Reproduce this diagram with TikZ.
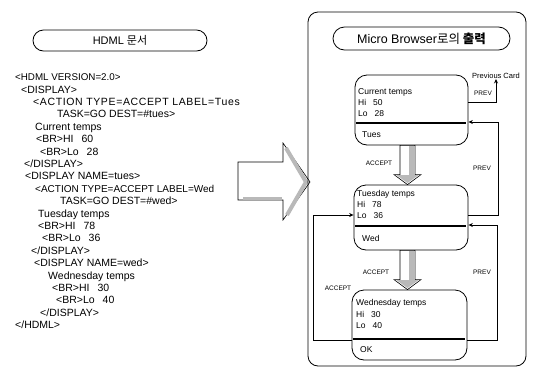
\documentclass[tikz,border=0pt]{standalone}
\usepackage{fontspec}
\setmainfont{Liberation Sans}
\newfontfamily\cjk{Noto Sans CJK KR}
\newfontfamily\widesans[LetterSpace=6]{Liberation Sans}
\usetikzlibrary{arrows.meta,shapes.misc,calc}
\begin{document}
\begin{tikzpicture}[x=1pt,y=-1pt,
 card/.style={draw, line width=0.8pt, rounded corners=12pt, inner sep=0},
 ctext/.style={anchor=base west, inner sep=0, font=\fontsize{8.5}{10}\selectfont},
 code/.style={anchor=base west, inner sep=0, font=\fontsize{10.5}{12}\selectfont},
 widecode/.style={code, font=\fontsize{10.5}{12}\widesans},
 lab/.style={inner sep=0, font=\fontsize{6.5}{8}\selectfont},
 conn/.style={draw, line width=0.7pt, -{Stealth[length=4.5pt,width=4pt]}},
 pill/.style={draw, line width=0.8pt, rounded rectangle, inner sep=0},
 sepline/.style={line width=1.6pt},
 blk/.style={draw, line width=0.6pt, fill=white},
 shade/.style={fill=gray!55, draw=none}
]
\useasboundingbox (0,0) rectangle (533,370);

% ---------- left: HDML document ----------
\node[pill, minimum width=174pt, minimum height=21pt] (hdml) at (120,40.5)
  {\fontsize{11}{13}\selectfont HDML {\cjk 문서}};

\node[code, font=\fontsize{9.8}{12}\selectfont] (l0) at (15,80.6) {<HDML VERSION=2.0>};
\node[code] (l1)  at (21,93)    {<DISPLAY>};
\node[widecode] (l2) at (33,105.4) {<ACTION TYPE=ACCEPT LABEL=Tues};
\node[code] (l3)  at (57,117.8) {TASK=GO DEST=\#tues>};
\node[code] (l4)  at (35,130.2) {Current temps};
\node[code] (l5)  at (36,142.6) {<BR>HI\hspace{8pt}60};
\node[code] (l6)  at (40,155)   {<BR>Lo\hspace{8pt}28};
\node[code] (l7)  at (24,167.4) {</DISPLAY>};
\node[code] (l8)  at (25,179.8) {<DISPLAY NAME=tues>};
\node[code, font=\fontsize{10}{12}\selectfont] (l9) at (35,192.2) {<ACTION TYPE=ACCEPT LABEL=Wed};
\node[code] (l10) at (60,204.6) {TASK=GO DEST=\#wed>};
\node[code] (l11) at (38,217)   {Tuesday temps};
\node[code] (l12) at (38,229.4) {<BR>HI\hspace{8pt}78};
\node[code] (l13) at (42,241.8) {<BR>Lo\hspace{8pt}36};
\node[code] (l14) at (31,254.2) {</DISPLAY>};
\node[code] (l15) at (34,266.6) {<DISPLAY NAME=wed>};
\node[code] (l16) at (48,279)   {Wednesday temps};
\node[code] (l17) at (52,291.4) {<BR>HI\hspace{8pt}30};
\node[code] (l18) at (56,303.8) {<BR>Lo\hspace{8pt}40};
\node[code] (l19) at (40,316.2) {</DISPLAY>};
\node[code] (l20) at (15,328.6) {</HDML>};

% ---------- big block arrow ----------
\draw[blk] (238,162) -- (283,162) -- (283,143) -- (310,182) -- (283,220)
  -- (283,200) -- (238,200) -- cycle;
\draw[line width=4pt, gray!55] (286,148) -- (306,182) -- (287,215);
\draw[line width=3pt, gray!55] (243,198) -- (282,198);

% ---------- right: micro browser ----------
\node[draw, line width=0.8pt, rounded corners=10pt, minimum width=218pt,
  minimum height=354pt, inner sep=0] (frame) at (417,189) {};
\node[pill, minimum width=177pt, minimum height=23pt] (mb) at (421.5,38.5)
  {\fontsize{12.5}{14}\selectfont Micro Browser{\cjk 로의 \textbf{출력}}};

% cards
\node[card, minimum width=113pt, minimum height=70pt] (c1) at (411.5,110) {};
\node[card, minimum width=114pt, minimum height=65pt] (c2) at (411,217.5) {};
\node[card, minimum width=115pt, minimum height=70pt] (c3) at (409.5,325) {};

\node[ctext] (t11) at (358,94)  {Current temps};
\node[ctext] (t12) at (358,105) {Hi\hspace{7pt}50};
\node[ctext] (t13) at (358,116) {Lo\hspace{7pt}28};
\draw[sepline] (356,123) -- (466,123);
\node[ctext] (t14) at (362,137) {Tues};

\node[ctext] (t21) at (357,196) {Tuesday temps};
\node[ctext] (t22) at (357,207) {Hi\hspace{7pt}78};
\node[ctext] (t23) at (357,218) {Lo\hspace{7pt}36};
\draw[sepline] (355,226) -- (466,226);
\node[ctext] (t24) at (362,241) {Wed};

\node[ctext] (t31) at (356,305) {Wednesday temps};
\node[ctext] (t32) at (356,317) {Hi\hspace{7pt}30};
\node[ctext] (t33) at (356,328) {Lo\hspace{7pt}40};
\draw[sepline] (353,339) -- (465,339);
\node[ctext] (t34) at (360,352) {OK};

% block arrows card1 -> card2, card2 -> card3
\coordinate (a1s) at ([xshift=-4pt]c1.south);
\coordinate (a1t) at ([xshift=-3.5pt]c2.north);
\draw[blk] ($(a1s)+(-7.5,0)$) -- ($(a1s)+(7.5,0)$) -- ($(a1t)+(7.5,-10)$)
  -- ($(a1t)+(13.5,-10)$) -- (a1t) -- ($(a1t)+(-13.5,-10)$)
  -- ($(a1t)+(-7.5,-10)$) -- cycle;
\fill[shade] ($(a1s)+(1,0.5)$) rectangle ($(a1t)+(7,-10)$);
\fill[shade] ($(a1t)+(0,-1.5)$) -- ($(a1t)+(11,-9.5)$) -- ($(a1t)+(-11,-9.5)$) -- cycle;

\coordinate (a2s) at ([xshift=-3.5pt]c2.south);
\coordinate (a2t) at ([xshift=-2pt]c3.north);
\draw[blk] ($(a2s)+(-7.5,0)$) -- ($(a2s)+(7.5,0)$) -- ($(a2t)+(7.5,-10)$)
  -- ($(a2t)+(13.5,-10)$) -- (a2t) -- ($(a2t)+(-13.5,-10)$)
  -- ($(a2t)+(-7.5,-10)$) -- cycle;
\fill[shade] ($(a2s)+(1,0.5)$) rectangle ($(a2t)+(7,-10)$);
\fill[shade] ($(a2t)+(0,-1.5)$) -- ($(a2t)+(11,-9.5)$) -- ($(a2t)+(-11,-9.5)$) -- cycle;

\node[lab] (acc1) at (379,163) {ACCEPT};
\node[lab] (acc2) at (376,272) {ACCEPT};

% accept from card3 back to card2 on the left
\draw[conn] ([yshift=-15pt]c3.west) -- ++(-38,0) |- ([yshift=2.5pt]c2.west);
\node[lab] (acc3) at (338,288) {ACCEPT};

% PREV connectors
\node[lab, font=\fontsize{7.5}{9}\selectfont] (pcard) at (496,76) {Previous Card};
\draw[conn] ([yshift=8pt]c1.east) -| (pcard.south);
\node[lab] (pv1) at (483,93) {PREV};

\draw[conn] ([yshift=2.5pt]c2.east) -- ++(30,0) |- ([yshift=-12pt]c1.east);
\node[lab] (pv2) at (482,168) {PREV};

\draw[conn] ([yshift=-15pt]c3.east) -- ++(29.5,0) |- ([yshift=-7.5pt]c2.east);
\node[lab] (pv3) at (482,272) {PREV};
\end{tikzpicture}
\end{document}
